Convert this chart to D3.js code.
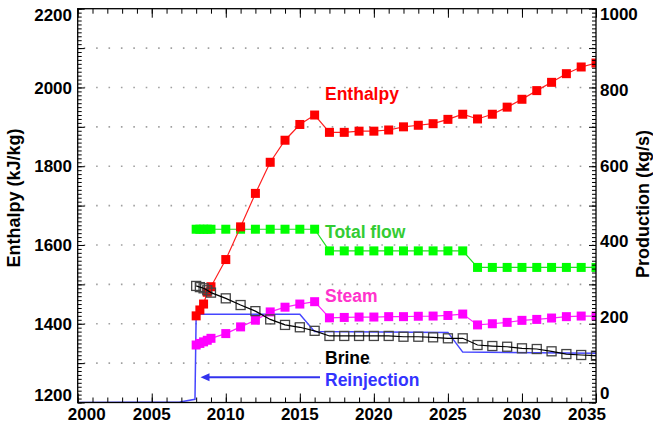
<!DOCTYPE html>
<html>
<head>
<meta charset="utf-8">
<script src="https://cdn.jsdelivr.net/npm/d3@7"></script>
<style>
  html, body { margin: 0; padding: 0; background: #fff; }
  svg { display: block; font-family: "Liberation Sans", Arial, Helvetica, sans-serif; font-weight: bold; }
</style>
</head>
<body>
<svg id="chart" width="653" height="427"></svg>
<script>
// Simulation output: quarterly steps during the first year, yearly afterwards
const years = [2008, 2008.25, 2008.5, 2008.75, 2009,
  2010, 2011, 2012, 2013, 2014, 2015, 2016,
  2017, 2018, 2019, 2020, 2021, 2022, 2023, 2024, 2025, 2026,
  2027, 2028, 2029, 2030, 2031, 2032, 2033, 2034, 2035];

// Flowing enthalpy (kJ/kg), left axis
const enthalpy = [1420, 1435, 1450, 1480, 1494,
  1563, 1646, 1731, 1810, 1866, 1906, 1930,
  1886, 1886, 1889, 1889, 1892, 1900, 1904, 1908, 1919, 1932,
  1920, 1932, 1950, 1970, 1992, 2013, 2035, 2052, 2062];

// Production rates (kg/s), right axis
const totalFlow = [440, 440, 440, 440, 440,
  440, 440, 440, 440, 440, 440, 440,
  385, 385, 385, 385, 385, 385, 385, 385, 385, 385,
  343, 343, 343, 343, 343, 343, 343, 343, 343];

const steam = [146, 150, 154, 158, 163,
  175, 192, 209, 230, 242, 250, 256,
  215, 216, 217, 217, 218, 218, 219, 219.5, 221, 224.6,
  197, 200, 203.5, 208.6, 211, 214.5, 218, 219.5, 219.5];

const brine = [296, 293, 290, 285, 279,
  264.5, 247.5, 232, 211, 197, 191, 182,
  169, 169, 169, 169, 169, 167, 167, 165.5, 163, 163,
  146, 143.4, 141.6, 137.6, 135.8, 130, 123, 120.6, 118.8];

// Reinjection rate (kg/s), drawn as a plain line
const reinjYears = [2000, 2006.9, 2007.92, 2008, 2015, 2016, 2025, 2026, 2035];
const reinjection = [0, 1, 8, 224, 224, 180, 178, 128, 125];

// Axis tick labels
const xTickLabels = [2000, 2005, 2010, 2015, 2020, 2025, 2030, 2035];
const leftTickLabels = [1200, 1400, 1600, 1800, 2000, 2200];
const rightTickLabels = [0, 200, 400, 600, 800, 1000];
const gridValues = [1300, 1400, 1500, 1600, 1700, 1800, 1900, 2000, 2100];

// ---------- layout ----------
const X0 = 77.7, X1 = 596, Y0 = 402.5, Y1 = 8.7;
const svg = d3.select("#chart");

const x = d3.scaleLinear().domain([2000, 2035]).range([X0, X1]);
const yL = d3.scaleLinear().domain([1200, 2200]).range([Y0, Y1]);
const yR = d3.scaleLinear().domain([0, 1000]).range([Y0, Y1]);
// right-hand labels are spread slightly tighter than the ticks
const yRLabel = d3.scaleLinear().domain([0, 1000]).range([392.7, 14.3]);

const plot = svg.append("g");
svg.append("clipPath").attr("id", "plotclip")
  .append("rect").attr("x", X0).attr("y", Y1).attr("width", X1 - X0).attr("height", Y0 - Y1);

// dotted horizontal grid
plot.append("g").selectAll("line").data(gridValues).join("line")
  .attr("x1", X0 + 6).attr("x2", X1)
  .attr("y1", d => yL(d)).attr("y2", d => yL(d))
  .attr("stroke", "#a0a0a0").attr("stroke-width", 1.6)
  .attr("stroke-dasharray", "1.6,10.8");

// ---------- series ----------
const series = plot.append("g").attr("clip-path", "url(#plotclip)");

function drawLine(xs, ys, scale, color, width) {
  const pts = xs.map((d, i) => [x(d), scale(ys[i])]);
  series.append("path").datum(pts)
    .attr("d", d3.line())
    .attr("fill", "none").attr("stroke", color).attr("stroke-width", width);
}
function drawSquares(xs, ys, scale, fill, stroke, size) {
  series.append("g").selectAll("rect").data(xs.map((d, i) => [d, ys[i]])).join("rect")
    .attr("x", d => x(d[0]) - size / 2).attr("y", d => scale(d[1]) - size / 2)
    .attr("width", size).attr("height", size)
    .attr("fill", fill).attr("stroke", stroke).attr("stroke-width", stroke === "none" ? 0 : 1.3);
}

drawLine(reinjYears, reinjection, yR, "#4646ff", 1.5);

drawLine(years, totalFlow, yR, "#22dd22", 1.2);
drawSquares(years, totalFlow, yR, "#00ff00", "none", 9);

drawLine(years, enthalpy, yL, "#ff2020", 1.2);
drawSquares(years, enthalpy, yL, "#ff0000", "none", 9);

drawLine(years, steam, yR, "#ff20ff", 1.2);
drawSquares(years, steam, yR, "#ff00ff", "none", 9);

drawSquares(years, brine, yR, "none", "#444", 9);
drawLine(years, brine, yR, "#000", 1.2);

// ---------- axes (inward ticks) ----------
function ticks(axis, transform) {
  const g = svg.append("g").attr("transform", transform).call(axis);
  g.select(".domain").remove();
  g.selectAll(".tick line").attr("stroke", "#000").attr("stroke-width", 1);
  g.selectAll(".tick text").remove();
}
const yearsAll = d3.range(2000, 2036, 1);
const years5 = d3.range(2000, 2036, 5);
ticks(d3.axisBottom(x).tickValues(yearsAll).tickSize(-5), `translate(0,${Y0})`);
ticks(d3.axisBottom(x).tickValues(years5).tickSize(-9), `translate(0,${Y0})`);
ticks(d3.axisTop(x).tickValues(yearsAll).tickSize(-5), `translate(0,${Y1})`);
ticks(d3.axisTop(x).tickValues(years5).tickSize(-9), `translate(0,${Y1})`);
ticks(d3.axisLeft(yL).tickValues(d3.range(1200, 2201, 10)).tickSize(-4), `translate(${X0},0)`);
ticks(d3.axisLeft(yL).tickValues(d3.range(1200, 2201, 100)).tickSize(-7), `translate(${X0},0)`);
ticks(d3.axisRight(yR).tickValues(d3.range(0, 1001, 10)).tickSize(-4), `translate(${X1},0)`);
ticks(d3.axisRight(yR).tickValues(d3.range(0, 1001, 100)).tickSize(-7), `translate(${X1},0)`);

// frame
svg.append("rect").attr("x", X0).attr("y", Y1).attr("width", X1 - X0).attr("height", Y0 - Y1)
  .attr("fill", "none").attr("stroke", "#000").attr("stroke-width", 1.3);

// tick labels
svg.append("g").selectAll("text").data(xTickLabels).join("text")
  .attr("x", d => Math.max(X0 + 9, Math.min(X1 - 9, x(d))))
  .attr("y", 419.5).attr("text-anchor", "middle")
  .attr("font-size", 17).text(d => d);

svg.append("g").selectAll("text").data(leftTickLabels).join("text")
  .attr("x", 72).attr("y", d => Math.max(Y1 + 6.5, Math.min(Y0 - 7.5, yL(d))) + 6.1)
  .attr("text-anchor", "end").attr("font-size", 17).text(d => d);

svg.append("g").selectAll("text").data(rightTickLabels).join("text")
  .attr("x", 600).attr("y", d => yRLabel(d) + 6.1)
  .attr("text-anchor", "start").attr("font-size", 17).text(d => d);

// axis titles
svg.append("text").attr("transform", "translate(20,198) rotate(-90)")
  .attr("text-anchor", "middle").attr("font-size", 18).text("Enthalpy (kJ/kg)");
svg.append("text").attr("transform", "translate(649,204) rotate(-90)")
  .attr("text-anchor", "middle").attr("font-size", 18).text("Production (kg/s)");

// series labels
const labels = [
  { text: "Enthalpy", color: "#ff0000", y: 99.5 },
  { text: "Total flow", color: "#33cc33", y: 237.5 },
  { text: "Steam", color: "#ff33cc", y: 301.7 },
  { text: "Brine", color: "#000000", y: 364 },
  { text: "Reinjection", color: "#3333ff", y: 385.8 }
];
svg.append("g").selectAll("text").data(labels).join("text")
  .attr("x", 325).attr("y", d => d.y).attr("fill", d => d.color)
  .attr("font-size", 17.5).text(d => d.text);

// arrow pointing from the reinjection label to the start of reinjection
const arrowY = 377.3, arrowFrom = 320, arrowTip = 200.5;
svg.append("line").attr("x1", arrowFrom).attr("x2", arrowTip + 6).attr("y1", arrowY).attr("y2", arrowY)
  .attr("stroke", "#3333ee").attr("stroke-width", 2);
svg.append("path")
  .attr("d", `M${arrowTip},${arrowY} L${arrowTip + 9},${arrowY - 4} L${arrowTip + 9},${arrowY + 4} Z`)
  .attr("fill", "#3333ee");
</script>
</body>
</html>
